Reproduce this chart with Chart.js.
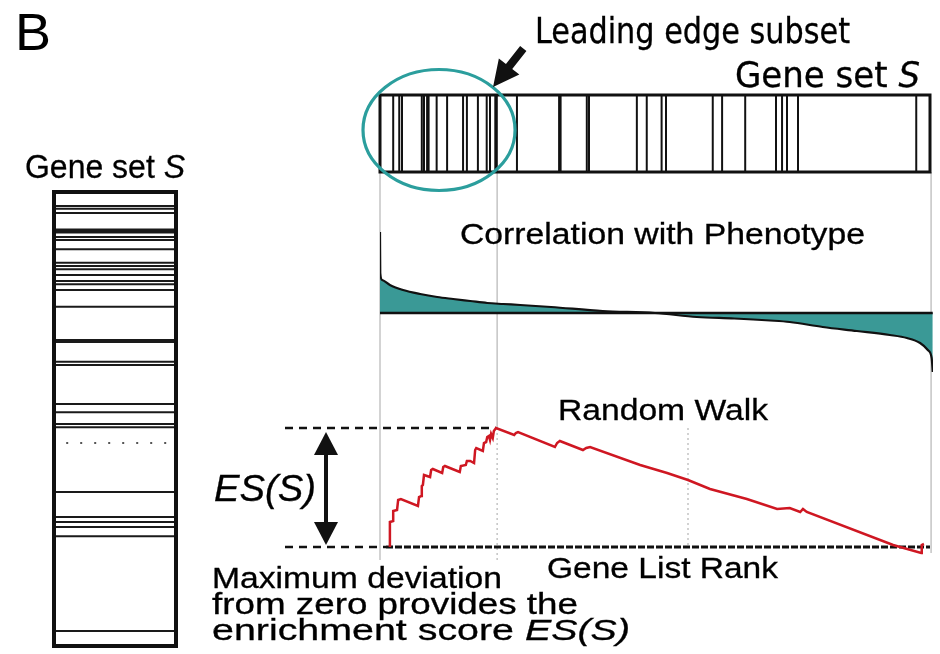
<!DOCTYPE html>
<html>
<head>
<meta charset="utf-8">
<title>GSEA enrichment score</title>
<script src="https://cdn.jsdelivr.net/npm/chart.js@4.4.1/dist/chart.umd.min.js"></script>
<style>
  html, body { margin: 0; padding: 0; background: #fff; }
  #fig { position: relative; width: 940px; height: 654px; overflow: hidden; background: #fff;
         font-family: "Liberation Sans", Arial, Helvetica, sans-serif; color: #000; }
  .txt { position: absolute; white-space: nowrap; line-height: 1; transform-origin: 0 0;
         -webkit-text-stroke: 0.3px #000; }
  canvas { position: absolute; }
</style>
</head>
<body>
<div id="fig"></div>
<script>
// ---------------- data ----------------
// Ranked gene list, positions 0..1000 from the top-ranked gene to the bottom.
// Members of gene set S in the ranked list.
const hitRanks = [24, 35, 40, 76, 80, 87, 103, 122, 151, 158, 178, 194, 200, 211, 249,
                  327, 376, 380, 467, 485, 512, 520, 605, 622, 664, 720, 731, 740, 760, 975];

// Correlation of each ranked gene with the phenotype.
const corrRank  = [0, 0.5, 4, 18, 42, 73, 104, 133, 164, 195, 224, 255, 311, 405, 500,
                   576, 644, 709, 745, 805, 867, 927, 958, 982, 996, 1003, 1005];
const corrValue = [0.81, 0.40, 0.33, 0.28, 0.23, 0.19, 0.16, 0.14, 0.12, 0.10, 0.09, 0.08, 0.06, 0.02, 0,
                   -0.04, -0.055, -0.075, -0.09, -0.14, -0.18, -0.22, -0.25, -0.30, -0.37, -0.45, -0.59];

// Running-sum (random walk) statistic along the ranked list.
const walkRank = [18, 18, 24, 24, 31, 33, 38, 69, 71, 75, 76, 78, 80, 91, 93, 96, 113, 115, 118, 145,
                  147, 156, 158, 164, 171, 173, 175, 187, 189, 193, 195, 198, 200, 202, 205, 207, 211,
                  244, 247, 251, 318, 322, 327, 369, 375, 382, 473, 522, 560, 600, 667, 722, 745,
                  764, 769, 776, 933, 984, 985, 989];
const walkES   = [0, 0.125, 0.13, 0.18, 0.185, 0.235, 0.24, 0.205, 0.25, 0.255, 0.305, 0.31, 0.36, 0.35,
                  0.385, 0.39, 0.37, 0.40, 0.405, 0.375, 0.405, 0.41, 0.43, 0.43, 0.42, 0.485, 0.495,
                  0.48, 0.52, 0.525, 0.55, 0.555, 0.535, 0.565, 0.545, 0.58, 0.595, 0.56, 0.57, 0.575,
                  0.50, 0.52, 0.53, 0.485, 0.495, 0.50, 0.41, 0.37, 0.335, 0.29, 0.24, 0.19, 0.195,
                  0.175, 0.19, 0.175, 0.01, -0.03, 0.01, 0.015];

// Gene set S on its own (unordered list, 0..1000 top to bottom).
const setRows   = [31, 37, 46, 86, 99, 106, 126, 156, 163, 170, 183, 196, 203, 216, 253, 328,
                   374, 381, 467, 485, 511, 518, 661, 716, 727, 738, 758, 967];
const setGapRow = 553;

// ES(S): maximum deviation of the walk from zero, and where it happens.
const esMax    = Math.max(...walkES);
const leadRank = walkRank[walkES.indexOf(esMax)];

// ---------------- styles / layout ----------------
const X0 = 380, PX = 0.55;            // page x of rank 0 and pixels per rank step
const rankAt = px => (px - X0) / PX;
const boldHits = [87, 211, 327];
const boldRows = { 86: 5, 328: 4 };
const TEAL_FILL = '#3a9996', TEAL_RING = '#2b9e9d', RED = '#cf1722', INK = '#111';
const GUIDE = '#c4c4c4';

const fig = document.getElementById('fig');

function makeChart(left, top, w, h, config) {
  const c = document.createElement('canvas');
  c.width = w; c.height = h;
  c.style.left = left + 'px'; c.style.top = top + 'px';
  c.style.width = w + 'px'; c.style.height = h + 'px';
  fig.appendChild(c);
  const base = {
    responsive: false, maintainAspectRatio: false, animation: false, events: [], devicePixelRatio: 1,
    plugins: { legend: { display: false }, tooltip: { enabled: false }, title: { display: false } }
  };
  const opts = Object.assign(base, config.options || {});
  opts.layout = Object.assign({ autoPadding: false }, opts.layout || {});
  config.options = opts;
  return new Chart(c.getContext('2d'), config);
}

function hiddenLinear(min, max, reverse) {
  return { type: 'linear', display: false, min, max, reverse: !!reverse };
}

function label(html, left, baseline, size, width, opts) {
  opts = opts || {};
  const d = document.createElement('div');
  d.className = 'txt';
  d.innerHTML = html;
  d.style.fontSize = size + 'px';
  d.style.left = left + 'px';
  d.style.top = (baseline - 0.847 * size) + 'px';
  if (opts.family) d.style.fontFamily = opts.family;
  if (opts.italic) d.style.fontStyle = 'italic';
  if (opts.thin) d.style.webkitTextStroke = '0px';
  fig.appendChild(d);
  const w = d.getBoundingClientRect().width;
  if (width && w > 0) d.style.transform = 'scaleX(' + (width / w) + ')';
  return d;
}

// ---------------- random walk panel (with guide lines) ----------------
const walkLeft = 280, walkTop = 172, walkW = 660, walkH = 400;
const esPerPx = 1 / 200;
const zeroPageY = 547;
makeChart(walkLeft, walkTop, walkW, walkH, {
  type: 'scatter',
  data: {
    datasets: [
      { // zero line, annotation side
        data: [{ x: rankAt(285), y: 0 }, { x: rankAt(386), y: 0 }],
        showLine: true, borderColor: INK, borderWidth: 2.5, borderDash: [8, 6], pointRadius: 0, order: 4 },
      { // zero line under the walk
        data: [{ x: rankAt(386), y: 0 }, { x: 1000, y: 0 }],
        showLine: true, borderColor: INK, borderWidth: 3, borderDash: [7, 2], pointRadius: 0, order: 3 },
      { // ES level
        data: [{ x: rankAt(285), y: esMax }, { x: leadRank, y: esMax }],
        showLine: true, borderColor: INK, borderWidth: 2.5, borderDash: [8, 6], pointRadius: 0, order: 2 },
      { // running sum
        data: walkRank.map((r, i) => ({ x: r, y: walkES[i] })),
        showLine: true, borderColor: RED, borderWidth: 2.5, pointRadius: 0, tension: 0, order: 1 }
    ]
  },
  options: {
    layout: { padding: 0 },
    scales: {
      x: hiddenLinear(rankAt(walkLeft), rankAt(walkLeft + walkW)),
      y: hiddenLinear((zeroPageY - (walkTop + walkH)) * esPerPx, (zeroPageY - walkTop) * esPerPx)
    }
  },
  plugins: [{
    id: 'guides',
    beforeDatasetsDraw(chart) {
      const ctx = chart.ctx, xs = chart.scales.x, ys = chart.scales.y;
      const seg = (r, y1, y2, dash) => {
        const x = xs.getPixelForValue(r);
        ctx.setLineDash(dash || []);
        ctx.beginPath(); ctx.moveTo(x, y1); ctx.lineTo(x, y2); ctx.stroke();
      };
      ctx.save();
      ctx.strokeStyle = GUIDE; ctx.lineWidth = 1.5;
      seg(0, 0, ys.getPixelForValue(-0.065));
      seg(leadRank + 2, 0, ys.getPixelForValue(esMax));
      seg(leadRank + 2, ys.getPixelForValue(esMax), ys.getPixelForValue(-0.065), [2, 3]);
      seg(560, ys.getPixelForValue(esMax), ys.getPixelForValue(0), [2, 3]);
      seg(1002, 0, ys.getPixelForValue(-0.03));
      ctx.restore();
    },
    afterDatasetsDraw(chart) {
      // double-headed arrow spanning ES(S)
      const ctx = chart.ctx, xs = chart.scales.x, ys = chart.scales.y;
      const x = xs.getPixelForValue(rankAt(326));
      const yTop = ys.getPixelForValue(esMax) + 4, yBot = ys.getPixelForValue(0) - 2;
      const hl = 23, hw = 12;
      ctx.save();
      ctx.fillStyle = INK; ctx.strokeStyle = INK; ctx.lineWidth = 4;
      ctx.beginPath(); ctx.moveTo(x, yTop + hl - 2); ctx.lineTo(x, yBot - hl + 2); ctx.stroke();
      ctx.beginPath(); ctx.moveTo(x, yTop); ctx.lineTo(x - hw, yTop + hl); ctx.lineTo(x + hw, yTop + hl); ctx.closePath(); ctx.fill();
      ctx.beginPath(); ctx.moveTo(x, yBot); ctx.lineTo(x - hw, yBot - hl); ctx.lineTo(x + hw, yBot - hl); ctx.closePath(); ctx.fill();
      ctx.restore();
    }
  }]
});

// ---------------- correlation panel ----------------
makeChart(370, 200, 570, 180, {
  type: 'line',
  data: {
    datasets: [
      { data: corrRank.map((r, i) => ({ x: r, y: corrValue[i] })),
        fill: 'origin', backgroundColor: TEAL_FILL, borderColor: INK, borderWidth: 2.2,
        pointRadius: 0, cubicInterpolationMode: 'monotone', order: 2 },
      { data: [{ x: 0, y: 0 }, { x: corrRank[corrRank.length - 1], y: 0 }],
        fill: false, borderColor: INK, borderWidth: 2.5, pointRadius: 0, order: 1 }
    ]
  },
  options: {
    layout: { padding: { left: 10, right: 7, top: 13, bottom: 7 } },
    scales: { x: hiddenLinear(0, rankAt(933)), y: hiddenLinear(-0.6, 1.0) }
  }
});

// ---------------- gene set S hits along the ranked list ----------------
makeChart(340, 40, 600, 160, {
  type: 'scatter',
  data: {
    datasets: [{
      data: hitRanks.map(r => ({ x: r, y: 0.5 })),
      pointStyle: 'line', rotation: 90,
      pointRadius: ctx => ctx.chart.chartArea ? ctx.chart.chartArea.height / 2 : 38,
      pointBorderWidth: ctx => boldHits.includes(hitRanks[ctx.dataIndex]) ? 3.5 : 2,
      pointBorderColor: INK, pointBackgroundColor: INK
    }]
  },
  options: {
    layout: { padding: { left: 40, right: 10, top: 55, bottom: 28 } },
    scales: { x: hiddenLinear(0, 1000), y: hiddenLinear(0, 1) }
  },
  plugins: [{
    id: 'frameRing',
    afterDatasetsDraw(chart) {
      const ctx = chart.ctx, ca = chart.chartArea, xs = chart.scales.x;
      ctx.save();
      ctx.strokeStyle = INK; ctx.lineWidth = 3;
      ctx.strokeRect(ca.left, ca.top, ca.width, ca.height);
      // ring around the leading edge subset
      const x0 = xs.getPixelForValue(0), x1 = xs.getPixelForValue(leadRank);
      ctx.strokeStyle = TEAL_RING; ctx.lineWidth = 3.2;
      ctx.beginPath();
      ctx.ellipse((x0 + x1) / 2 + 1, (ca.top + ca.bottom) / 2 - 3.5, (x1 - x0) / 2 + 18, ca.height / 2 + 22, 0, 0, Math.PI * 2);
      ctx.stroke();
      // pointer to the leading edge
      const tipX = x1 - 3, tipY = ca.top - 8;
      const dx = 0.617, dy = -0.787, len = 49, hl = 26, hw = 13, sw = 4;
      const bx = tipX + dx * hl, by = tipY + dy * hl;
      const px = -dy, py = dx;
      ctx.fillStyle = INK;
      ctx.beginPath();
      ctx.moveTo(tipX, tipY);
      ctx.lineTo(bx + px * hw, by + py * hw);
      ctx.lineTo(bx + px * sw, by + py * sw);
      ctx.lineTo(tipX + dx * len + px * sw, tipY + dy * len + py * sw);
      ctx.lineTo(tipX + dx * len - px * sw, tipY + dy * len - py * sw);
      ctx.lineTo(bx - px * sw, by - py * sw);
      ctx.lineTo(bx - px * hw, by - py * hw);
      ctx.closePath();
      ctx.fill();
      ctx.restore();
    }
  }]
});

// ---------------- gene set S on its own ----------------
makeChart(40, 180, 150, 480, {
  type: 'scatter',
  data: {
    datasets: [
      { data: setRows.map(r => ({ x: 0.5, y: r })),
        pointStyle: 'line', rotation: 0,
        pointRadius: ctx => ctx.chart.chartArea ? ctx.chart.chartArea.width / 2 : 61,
        pointBorderWidth: ctx => boldRows[setRows[ctx.dataIndex]] || 2,
        pointBorderColor: '#1a1a1a' },
      { data: [{ x: 0.1, y: setGapRow }, { x: 1, y: setGapRow }],
        showLine: true, pointRadius: 0, borderColor: '#555', borderWidth: 2, borderDash: [2, 12] }
    ]
  },
  options: {
    layout: { padding: { left: 14, right: 14, top: 12, bottom: 14 } },
    scales: { x: hiddenLinear(0, 1), y: hiddenLinear(0, 1000, true) }
  },
  plugins: [{
    id: 'frame',
    afterDatasetsDraw(chart) {
      const ctx = chart.ctx, ca = chart.chartArea;
      ctx.save(); ctx.strokeStyle = INK; ctx.lineWidth = 4;
      ctx.strokeRect(ca.left, ca.top, ca.width, ca.height);
      ctx.restore();
    }
  }]
});

// ---------------- text ----------------
const NARROW = '"Liberation Sans Narrow", "DejaVu Sans Condensed", "Liberation Sans", sans-serif';
label('B', 15, 50, 52, 36, { thin: true });
label('Leading edge subset', 535, 44, 35, 315, { family: NARROW });
label('Gene set <i>S</i>', 735, 88, 35, 185, { family: NARROW });
label('Gene set <i>S</i>', 25, 178, 34, 160);
label('Correlation with Phenotype', 460, 245, 29, 405);
label('Random Walk', 558, 421, 29, 210);
label('Gene List Rank', 547, 579, 29, 231);
label('ES(S)', 214, 501, 36, 102, { italic: true });
label('Maximum deviation', 212, 589, 29, 290);
label('from zero provides the', 212, 615, 29, 366);
label('enrichment score <i>ES(S)</i>', 212, 641, 29, 418);
</script>
</body>
</html>
